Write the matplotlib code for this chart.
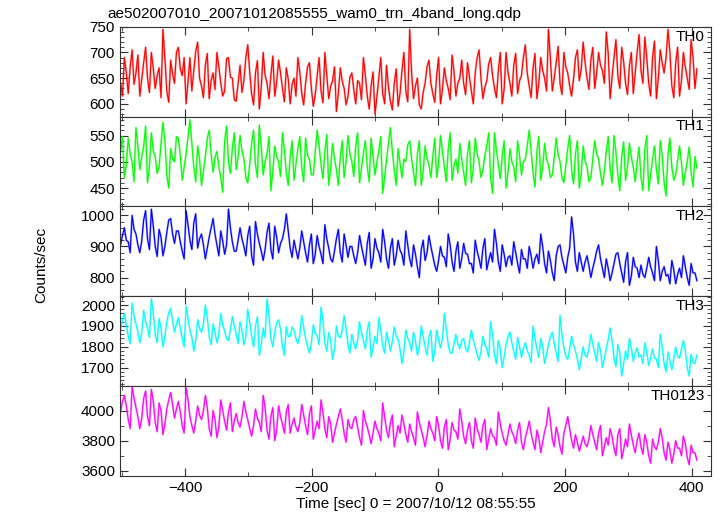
import numpy as np
import matplotlib.pyplot as plt
from matplotlib.ticker import MultipleLocator

plt.rcParams['font.family'] = ['Liberation Sans', 'DejaVu Sans']

# light curve bins (sec from 2007/10/12 08:55:55)
t_start, t_stop = -502, 408

th0 = [640, 615, 690, 660, 620, 672, 705, 638, 660, 695, 615, 648, 680, 710, 650, 622, 700, 668, 630, 655, 670, 612, 745, 690, 625, 603, 685, 658, 640, 700,
       710, 668, 655, 690, 600, 642, 690, 625, 665, 702, 720, 650, 635, 612, 675, 698, 610, 645, 660, 628, 700, 672, 640, 615, 625, 688, 690, 652, 650, 608,
       605, 640, 675, 622, 645, 690, 715, 662, 620, 598, 660, 684, 590, 632, 700, 655, 640, 610, 655, 693, 615, 642, 685, 660, 630, 604, 670, 648, 600, 638,
       650, 615, 690, 662, 620, 598, 640, 672, 680, 630, 595, 618, 655, 690, 625, 602, 700, 655, 610, 634, 645, 672, 585, 620, 670, 644, 630, 598, 615, 652,
       660, 628, 600, 645, 640, 608, 690, 655, 615, 590, 635, 662, 580, 614, 650, 690, 620, 600, 675, 632, 605, 588, 640, 668, 595, 620, 665, 700, 625, 604,
       745, 660, 610, 635, 650, 598, 590, 622, 640, 672, 685, 640, 620, 603, 655, 690, 600, 628, 670, 645, 630, 608, 695, 662, 615, 640, 650, 685, 640, 618,
       680, 652, 625, 600, 660, 690, 705, 648, 610, 632, 645, 678, 690, 655, 630, 612, 665, 700, 600, 628, 700, 662, 640, 615, 675, 698, 620, 645, 655, 690,
       715, 660, 635, 612, 670, 698, 610, 640, 690, 665, 650, 625, 745, 688, 625, 650, 680, 712, 640, 618, 700, 672, 660, 635, 615, 648, 690, 705, 645, 668,
       720, 680, 650, 628, 685, 710, 630, 660, 700, 675, 665, 640, 740, 698, 610, 652, 690, 725, 655, 630, 710, 682, 640, 618, 675, 700, 620, 660, 700, 735,
       665, 640, 730, 690, 640, 615, 690, 722, 610, 650, 705, 680, 660, 690, 745, 700, 635, 612, 680, 710, 615, 645, 700, 672, 650, 628, 725, 690, 630, 668]

th1 = [520, 548, 470, 495, 545, 515, 500, 462, 565, 530, 485, 510, 530, 568, 460, 492, 555, 520, 510, 478, 490, 535, 575, 540, 475, 450, 525, 505, 500, 548,
       545, 512, 465, 490, 515, 548, 580, 535, 490, 462, 530, 505, 455, 482, 510, 545, 560, 515, 480, 508, 520, 490, 470, 442, 540, 568, 500, 478, 525, 555,
       485, 510, 550, 520, 505, 470, 460, 495, 535, 560, 495, 470, 570, 528, 475, 500, 515, 548, 445, 482, 530, 510, 500, 472, 555, 522, 480, 455, 510, 540,
       465, 495, 525, 548, 490, 462, 545, 512, 505, 475, 475, 518, 560, 530, 495, 468, 520, 552, 455, 488, 535, 505, 485, 455, 510, 540, 470, 500, 550, 515,
       500, 472, 530, 555, 460, 488, 515, 540, 490, 462, 545, 510, 475, 500, 520, 548, 440, 470, 505, 535, 565, 520, 485, 455, 525, 498, 470, 505, 500, 532,
       540, 505, 480, 455, 515, 540, 455, 482, 530, 505, 495, 470, 510, 545, 470, 498, 550, 520, 490, 462, 525, 555, 465, 492, 505, 478, 535, 505, 480, 455,
       515, 540, 460, 488, 545, 515, 500, 470, 485, 512, 530, 555, 470, 440, 555, 522, 495, 468, 510, 540, 450, 478, 525, 500, 490, 462, 540, 512, 475, 500,
       505, 530, 560, 520, 480, 452, 520, 548, 465, 490, 535, 505, 495, 470, 475, 508, 545, 515, 500, 470, 460, 492, 525, 550, 485, 458, 515, 540, 450, 478,
       530, 502, 490, 462, 470, 505, 540, 515, 505, 478, 455, 482, 520, 548, 485, 460, 550, 518, 475, 445, 510, 538, 465, 490, 535, 508, 490, 462, 500, 528,
       470, 445, 525, 550, 445, 475, 505, 530, 485, 458, 540, 512, 460, 435, 515, 545, 490, 465, 475, 502, 530, 498, 455, 480, 500, 528, 480, 452, 510, 488]

th2 = [905, 935, 960, 920, 915, 880, 1000, 955, 940, 905, 880, 918, 985, 1015, 925, 890, 1020, 965, 900, 868, 955, 930, 870, 900, 945, 985, 990, 940, 910, 950,
       950, 915, 885, 860, 1015, 970, 920, 890, 975, 1005, 895, 925, 940, 905, 860, 895, 930, 960, 990, 940, 905, 870, 950, 918, 875, 905, 1020, 960, 915, 885,
       885, 920, 960, 925, 900, 870, 935, 965, 870, 840, 980, 940, 910, 885, 855, 890, 945, 975, 890, 860, 965, 930, 880, 910, 925, 955, 1005, 950, 895, 865,
       920, 890, 860, 895, 950, 915, 880, 850, 905, 940, 845, 875, 935, 900, 875, 845, 970, 925, 895, 860, 850, 885, 925, 955, 880, 850, 940, 905, 865, 900,
       900, 870, 845, 880, 935, 900, 870, 840, 910, 945, 830, 860, 925, 895, 880, 850, 955, 915, 860, 830, 895, 925, 840, 870, 920, 888, 875, 840, 950, 905,
       860, 835, 905, 875, 835, 800, 890, 920, 855, 880, 935, 900, 870, 840, 820, 855, 900, 870, 865, 835, 940, 905, 850, 820, 885, 915, 830, 860, 910, 878,
       875, 845, 845, 815, 920, 885, 860, 830, 895, 925, 825, 855, 880, 850, 955, 910, 850, 820, 905, 875, 835, 865, 870, 840, 915, 880, 845, 815, 890, 860,
       860, 830, 900, 870, 830, 860, 875, 845, 940, 900, 845, 815, 885, 855, 815, 790, 870, 900, 905, 865, 840, 815, 865, 895, 995, 940, 850, 820, 880, 850,
       820, 850, 870, 838, 800, 830, 855, 885, 905, 860, 830, 800, 860, 830, 790, 815, 845, 875, 880, 845, 815, 785, 850, 880, 775, 805, 865, 835, 830, 800,
       840, 810, 800, 830, 865, 835, 815, 790, 900, 855, 790, 820, 835, 805, 810, 780, 855, 825, 780, 810, 830, 800, 870, 835, 800, 775, 845, 815, 815, 790]

th3 = [1880, 1930, 1960, 1905, 1850, 1815, 2010, 1950, 1910, 1870, 1820, 1865, 1975, 1920, 1890, 1845, 2030, 1960, 1860, 1820, 1935, 1890, 1800, 1850, 1920, 1965, 1985, 1925, 1870, 1910,
       1940, 1890, 1840, 1800, 1995, 1935, 1880, 1845, 1780, 1830, 1930, 1890, 1870, 1910, 2000, 1940, 1850, 1810, 1910, 1870, 1820, 1860, 1960, 1905, 1875, 1840, 1830, 1880, 1945, 1900,
       1860, 1815, 1920, 1880, 1810, 1850, 1980, 1920, 1850, 1800, 1900, 1945, 1760, 1810, 1890, 1845, 2030, 1950, 1840, 1800, 1870, 1915, 1930, 1885, 1800, 1760, 1895, 1850, 1850, 1895,
       1880, 1840, 1815, 1855, 1950, 1895, 1840, 1800, 1770, 1820, 1905, 1865, 1855, 1810, 1990, 1925, 1820, 1780, 1870, 1830, 1740, 1790, 1900, 1850, 1845, 1880, 1950, 1890, 1810, 1770,
       1860, 1820, 1790, 1835, 1920, 1870, 1830, 1790, 1880, 1920, 1750, 1800, 1850, 1815, 1940, 1880, 1805, 1770, 1870, 1830, 1780, 1825, 1895, 1850, 1835, 1790, 1720, 1775, 1880, 1840,
       1820, 1780, 1870, 1830, 1760, 1800, 1900, 1850, 1800, 1760, 1845, 1880, 1730, 1780, 1880, 1835, 1795, 1840, 1960, 1880, 1810, 1770, 1770, 1815, 1860, 1815, 1790, 1830, 1840, 1795,
       1775, 1820, 1880, 1835, 1800, 1760, 1735, 1780, 1850, 1810, 1790, 1750, 1920, 1860, 1760, 1720, 1830, 1790, 1700, 1750, 1810, 1850, 1870, 1820, 1780, 1740, 1845, 1800, 1750, 1790,
       1820, 1780, 1760, 1725, 1900, 1840, 1790, 1750, 1840, 1800, 1720, 1765, 1810, 1850, 1870, 1815, 1770, 1730, 1950, 1860, 1795, 1755, 1740, 1790, 1850, 1810, 1780, 1740, 1690, 1745,
       1800, 1760, 1750, 1795, 1860, 1810, 1770, 1730, 1820, 1780, 1700, 1745, 1790, 1835, 1890, 1830, 1745, 1705, 1810, 1770, 1660, 1720, 1780, 1740, 1840, 1795, 1730, 1770, 1795, 1750,
       1760, 1720, 1820, 1775, 1710, 1750, 1790, 1745, 1740, 1700, 1860, 1800, 1720, 1680, 1775, 1735, 1690, 1740, 1800, 1755, 1745, 1790, 1830, 1780, 1700, 1660, 1765, 1725, 1720, 1760]

th0123 = [3990, 4060, 4100, 4030, 3940, 3880, 4160, 4080, 4020, 3960, 3880, 3950, 4080, 4130, 3960, 3900, 4140, 4060, 3920, 3860, 4050, 4000, 3840, 3910, 4010, 4070, 4120, 4040, 3950, 4010,
          4060, 3990, 3900, 3850, 4150, 4070, 3960, 3900, 3850, 3930, 4030, 3970, 3940, 4000, 4100, 4020, 3880, 3830, 4000, 3940, 3820, 3890, 4070, 4000, 3930, 3870, 3990, 4050, 3860, 3930,
          3980, 3920, 3890, 3960, 4060, 3990, 3940, 3880, 3830, 3900, 4010, 3950, 3920, 3860, 4100, 4020, 3870, 3810, 3960, 4020, 3800, 3870, 4030, 3960, 3910, 3850, 3990, 4040, 3850, 3910,
          3950, 3890, 3860, 3920, 4040, 3970, 3900, 3840, 3980, 4030, 3810, 3870, 3930, 3880, 4070, 3990, 3880, 3820, 3960, 3910, 3790, 3850, 3910, 3960, 4010, 3940, 3850, 3790, 3940, 3890,
          3880, 3940, 3960, 3890, 3820, 3770, 4000, 3930, 3890, 3840, 3780, 3850, 3930, 3880, 3850, 3800, 4050, 3960, 3870, 3820, 3920, 3970, 3760, 3830, 3900, 3850, 3970, 3910, 3840, 3790,
          3910, 3860, 3820, 3770, 3990, 3920, 3870, 3820, 3760, 3830, 3930, 3880, 3850, 3800, 3960, 3900, 3800, 3750, 3890, 3940, 3740, 3810, 3920, 3870, 3860, 3810, 4010, 3930, 3830, 3780,
          3870, 3920, 3800, 3750, 3950, 3880, 3840, 3790, 3900, 3940, 3740, 3810, 3880, 3830, 3820, 3770, 3990, 3910, 3850, 3800, 3770, 3840, 3910, 3860, 3830, 3780, 3870, 3920, 3790, 3740,
          3820, 3870, 3930, 3850, 3790, 3740, 3870, 3820, 3720, 3790, 3860, 3910, 4020, 3930, 3810, 3760, 3890, 3840, 3760, 3710, 3850, 3900, 3960, 3880, 3800, 3750, 3840, 3790, 3730, 3780,
          3830, 3780, 3760, 3810, 3900, 3840, 3790, 3740, 3850, 3900, 3700, 3760, 3820, 3770, 3880, 3830, 3750, 3700, 3840, 3880, 3680, 3740, 3810, 3760, 3910, 3840, 3770, 3720, 3800, 3850,
          3760, 3710, 3840, 3790, 3700, 3650, 3810, 3760, 3740, 3790, 3880, 3820, 3720, 3670, 3790, 3740, 3650, 3710, 3800, 3750, 3750, 3700, 3830, 3780, 3690, 3640, 3770, 3720, 3720, 3670]

bands = ['TH0', 'TH1', 'TH2', 'TH3', 'TH0123']
series = [th0, th1, th2, th3, th0123]
colors = ['#ff0000', '#00ff00', '#0000ff', '#00ffff', '#ff00ff']
ylims = [(575, 750), (415, 586), (740, 1029), (1612, 2043), (3567, 4163)]
ymajor = [50, 50, 100, 100, 200]
yminor = [10, 10, 20, 20, 100]

fig, axes = plt.subplots(5, 1, sharex=True, figsize=(7.18, 5.16), dpi=100)
fig.subplots_adjust(left=0.167, right=0.990, top=0.948, bottom=0.078, hspace=0)

for ax, name, y, c, yl, mj, mn in zip(axes, bands, series, colors, ylims, ymajor, yminor):
    t = np.linspace(t_start, t_stop, len(y))
    # soft wide line stands in for the lighter error bars
    ax.plot(t, y, c=c, lw=1.5, alpha=0.35)
    ax.plot(t, y, c=c, lw=0.8)
    ax.set_ylim(*yl)
    ax.set_xlim(-503, 430)
    ax.yaxis.set_major_locator(MultipleLocator(mj))
    ax.yaxis.set_minor_locator(MultipleLocator(mn))
    ax.xaxis.set_major_locator(MultipleLocator(200))
    ax.xaxis.set_minor_locator(MultipleLocator(100))
    ax.tick_params(which='both', direction='in', top=True, right=True, labelsize=11, color='#333333')
    ax.tick_params(which='major', length=6)
    ax.tick_params(which='minor', length=3)
    for s in ax.spines.values():
        s.set_color('#333333')
    ax.text(0.99, 0.97, name, transform=ax.transAxes, ha='right', va='top', fontsize=11)

axes[0].set_yticks([600, 650, 700, 750])
axes[-1].set_xlabel('Time [sec] 0 = 2007/10/12 08:55:55', fontsize=11, labelpad=2)
fig.text(0.058, 0.487, 'Counts/sec', rotation=90, ha='center', va='center', fontsize=11)
fig.text(0.149, 0.972, 'ae502007010_20071012085555_wam0_trn_4band_long.qdp', ha='left', va='center', fontsize=11)

plt.savefig('out.png')
